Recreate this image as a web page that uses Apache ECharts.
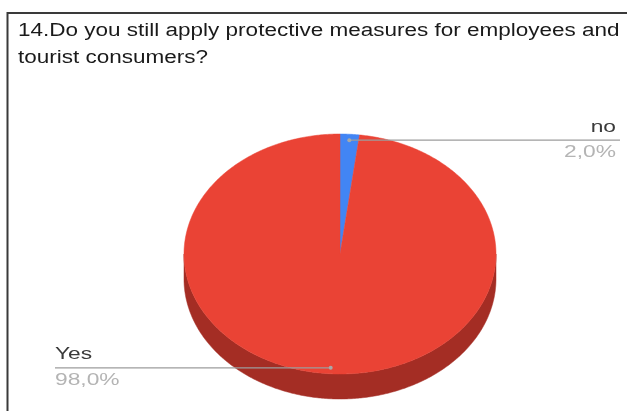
<!DOCTYPE html>
<html>
<head>
<meta charset="utf-8">
<script src="https://cdn.jsdelivr.net/npm/echarts@6/dist/echarts.min.js"></script>
<style>
  html, body { margin: 0; padding: 0; background: #ffffff; }
  #chart { width: 627px; height: 411px; }
</style>
</head>
<body>
<div id="chart"></div>
<script>
// Survey answers
const categories = ['no', 'Yes'];
const responses = [2, 98];
const titleLines = [
  '14.Do you still apply protective measures for employees and',
  'tourist consumers?'
];

// Slice colours (top face / side wall)
const topColors = ['#4285f4', '#ea4335'];
const sideColors = ['#2c5fb3', '#a42d24'];

// Tilted-pie geometry
const CX = 340, CY = 254, RX = 156, RY = 120, DEPTH = 25;
const LABEL_R = 0.95;
const LABEL_FONT = '17px "Liberation Sans", Arial, sans-serif';
const LABEL_STRETCH = 1.34;
const TITLE_FONT = '18px "Liberation Sans", Arial, sans-serif';
const TITLE_STRETCH = 1.25;

const total = responses.reduce((a, b) => a + b, 0);

function pt(theta, dy) {
  return [CX + RX * Math.sin(theta), CY - RY * Math.cos(theta) + (dy || 0)];
}
function arcPts(a, b, dy) {
  const n = Math.max(2, Math.ceil((b - a) / 0.01));
  const out = [];
  for (let i = 0; i <= n; i++) out.push(pt(a + (b - a) * i / n, dy));
  return out;
}
function formatPct(v) {
  return (v / total * 100).toFixed(1).replace('.', ',') + '%';
}

function renderSlice(params, api) {
  const idx = params.dataIndex;
  const value = api.value(0);
  let before = 0;
  for (let i = 0; i < idx; i++) before += responses[i];
  const a = before / total * 2 * Math.PI;
  const b = (before + value) / total * 2 * Math.PI;
  const children = [];

  // front wall: the part of the rim between 90° and 270° (clockwise from top)
  const s = Math.max(a, Math.PI / 2), e = Math.min(b, 3 * Math.PI / 2);
  if (e > s) {
    const upper = arcPts(s, e, 0);
    const lower = arcPts(s, e, DEPTH).reverse();
    children.push({
      type: 'polygon', z2: 1,
      shape: { points: upper.concat(lower) },
      style: { fill: sideColors[idx], stroke: sideColors[idx], lineWidth: 0.5 }
    });
  }

  // top face
  children.push({
    type: 'polygon', z2: 5,
    shape: { points: [[CX, CY]].concat(arcPts(a, b, 0)) },
    style: { fill: topColors[idx], stroke: topColors[idx], lineWidth: 0.5 }
  });

  // leader line and texts
  const mid = (a + b) / 2;
  const anchor = [CX + RX * LABEL_R * Math.sin(mid), CY - RY * LABEL_R * Math.cos(mid)];
  const onRight = Math.sin(mid) >= 0;
  const lineEnd = onRight ? 620 : 55;
  const textX = onRight ? 616 : 55;
  const align = onRight ? 'right' : 'left';
  children.push({
    type: 'line', z2: 10,
    shape: { x1: anchor[0], y1: anchor[1], x2: lineEnd, y2: anchor[1] },
    style: { stroke: '#9c9c9c', lineWidth: 1.2 }
  });
  children.push({
    type: 'circle', z2: 11,
    shape: { cx: anchor[0], cy: anchor[1], r: 2 },
    style: { fill: '#a8a8a8' }
  });
  children.push({
    type: 'text', z2: 12,
    x: textX, y: anchor[1] - 13, scaleX: LABEL_STRETCH,
    style: {
      text: categories[idx], x: 0, y: 0, align: align, verticalAlign: 'middle',
      font: LABEL_FONT, fill: '#3a3a3a'
    }
  });
  children.push({
    type: 'text', z2: 12,
    x: textX, y: anchor[1] + 12.5, scaleX: LABEL_STRETCH,
    style: {
      text: formatPct(value), x: 0, y: 0, align: align, verticalAlign: 'middle',
      font: LABEL_FONT, fill: '#b4b4b4'
    }
  });

  return { type: 'group', children: children };
}

const chart = echarts.init(document.getElementById('chart'), null, { renderer: 'canvas' });
chart.setOption({
  animation: false,
  backgroundColor: '#ffffff',
  graphic: [
    // frame
    { type: 'line', shape: { x1: 7.5, y1: 13, x2: 627, y2: 13 }, style: { stroke: '#3a3a3a', lineWidth: 2 } },
    { type: 'line', shape: { x1: 7.5, y1: 12, x2: 7.5, y2: 411 }, style: { stroke: '#3a3a3a', lineWidth: 2 } },
    // title
    {
      type: 'text', x: 18, y: 31, scaleX: TITLE_STRETCH,
      style: { text: titleLines[0], x: 0, y: 0, verticalAlign: 'middle',
        font: TITLE_FONT, fill: '#1a1a1a' }
    },
    {
      type: 'text', x: 18, y: 58, scaleX: TITLE_STRETCH,
      style: { text: titleLines[1], x: 0, y: 0, verticalAlign: 'middle',
        font: TITLE_FONT, fill: '#1a1a1a' }
    }
  ],
  series: [{
    type: 'custom',
    coordinateSystem: 'none',
    renderItem: renderSlice,
    data: responses.map((v, i) => ({ name: categories[i], value: v }))
  }]
});
</script>
</body>
</html>
